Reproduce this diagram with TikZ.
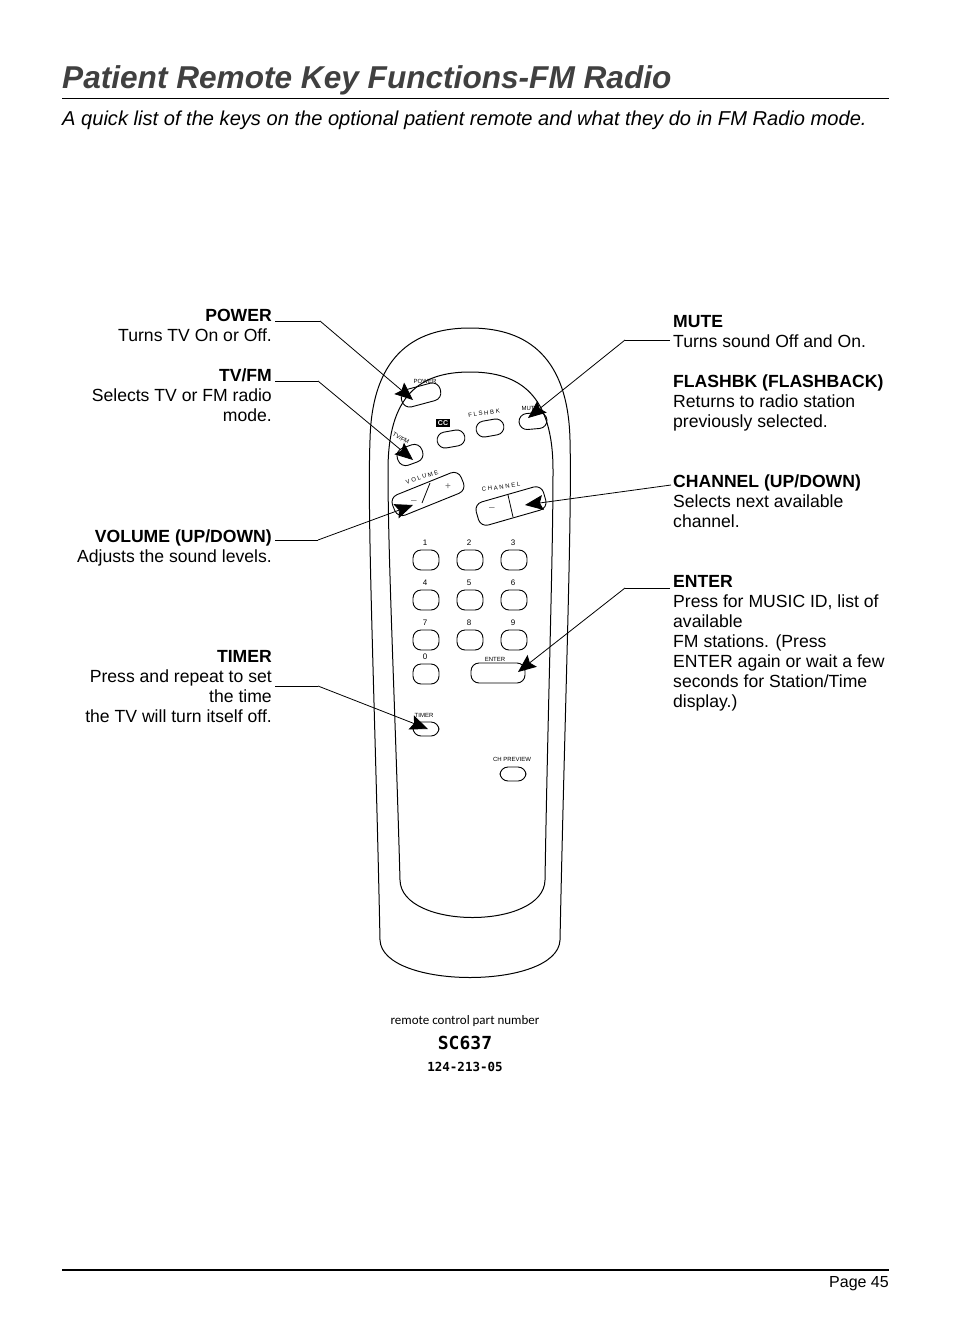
\documentclass[tikz,border=0pt]{standalone}
\usepackage{fontspec}
\setmainfont{Liberation Sans}
\newfontfamily\monob{DejaVu Sans Mono}
\newfontfamily\smallsans{Carlito}
\usetikzlibrary{arrows.meta,calc}
\begin{document}
\begin{tikzpicture}[x=1pt,y=-1pt,
  btn/.style={draw,line width=0.9pt,rounded corners=8pt,minimum width=38pt,minimum height=20pt,inner sep=0pt},
  lbl/.style={font=\fontsize{6.5}{8}\selectfont,inner sep=0pt},
  call/.style={line width=0.8pt,-{Stealth[length=18pt,width=15pt,inset=3pt]}},
  txt/.style={font=\fontsize{17.6}{20}\selectfont,inner sep=0pt},
  shell/.style={line width=1pt}]
\useasboundingbox (0,0) rectangle (954,1335);
% header
\node[anchor=base west,inner sep=0pt,font=\fontsize{31.6}{34}\selectfont\bfseries\itshape,text=black!75] (title) at (62,89) {Patient Remote Key Functions-FM Radio};
\draw[line width=0.8pt] (62,98) coordinate (t1) -- (889,98) coordinate (t2);
\node[anchor=base west,inner sep=0pt,font=\fontsize{20.1}{22}\selectfont\itshape] (sub) at (62,125) {A quick list of the keys on the optional patient remote and what they do in FM Radio mode.};
% remote shell
\draw[shell] (380,940) .. controls (375,700) and (367,520) .. (370,440) .. controls (372,350) and (420,328) .. (470,328) .. controls (520,328) and (568,350) .. (570,440) .. controls (572,520) and (565,700) .. (560,940) .. controls (558,990) and (382,990) .. (380,940) -- cycle;
\draw[shell] (400,880) .. controls (395,700) and (388,560) .. (388,470) .. controls (388,395) and (420,372) .. (470,372) .. controls (520,372) and (553,395) .. (553,470) .. controls (553,560) and (548,700) .. (545,880) .. controls (544,930) and (401,930) .. (400,880) -- cycle;
% top buttons
\node[btn,minimum width=40pt,minimum height=18pt,rotate=15] (power) at (421,395) {};
\node[lbl,font=\fontsize{6}{7}\selectfont] (powerl) at (425,381) {POWER};
\node[fill=black,text=white,inner sep=1.5pt,font=\fontsize{7}{8}\selectfont\bfseries] (cc) at (443,423) {CC};
\node[btn,minimum width=28pt,minimum height=16pt,rotate=10] (ccb) at (451,439) {};
\node[btn,minimum width=28pt,minimum height=16pt,rotate=10] (fl) at (490,428) {};
\node[lbl,font=\fontsize{6}{7}\selectfont,rotate=8] (fll) at (484,413) {F L S H B K};
\node[btn,minimum width=28pt,minimum height=16pt,rotate=5] (mute) at (533,421) {};
\node[lbl,font=\fontsize{6}{7}\selectfont] (mutel) at (530,408) {MUTE};
\node[btn,minimum width=26pt,minimum height=18pt,rotate=20] (tvfm) at (410,455) {};
\node[lbl,font=\fontsize{6}{7}\selectfont,rotate=-30] (tvfml) at (401,438) {TV/FM};
\node[btn,minimum width=74pt,minimum height=22pt,rotate=22] (vol) at (428,494) {};
\draw[line width=0.8pt] ($(vol.center)+(2,-11)$) -- ($(vol.center)+(-6,9)$);
\node[lbl,font=\fontsize{10}{10}\selectfont,text=black!60] (vm) at (414,502) {--};
\node[lbl,font=\fontsize{10}{10}\selectfont,text=black!60] (vp) at (448,487) {+};
\node[lbl,font=\fontsize{6}{7}\selectfont,rotate=18] (voll) at (422,477) {V O L U M E};
\node[btn,minimum width=70pt,minimum height=24pt,rotate=16] (ch) at (511,506) {};
\draw[line width=0.8pt] ($(ch.center)+(-3,-11)$) -- ($(ch.center)+(2,11)$);
\node[lbl,font=\fontsize{10}{10}\selectfont,text=black!60] (chm) at (492,509) {--};
\node[lbl,font=\fontsize{6}{7}\selectfont,rotate=8] (chl) at (501,487) {C H A N N E L};
% number pad
\foreach \n/\x/\y in {1/426/560,2/470/560,3/514/560,4/426/600,5/470/600,6/514/600,7/426/640,8/470/640,9/514/640,0/426/674}{
  \node[btn,minimum width=26pt,minimum height=20pt] (k\n) at (\x,\y) {};
  \node[lbl,font=\fontsize{8}{9}\selectfont] (kl\n) at (\x-1,\y-17) {\n};
}
\node[btn,minimum width=54pt,minimum height=20pt] (enter) at (498,673) {};
\node[lbl,font=\fontsize{6}{7}\selectfont] (enterl) at (495,659) {ENTER};
\node[btn,minimum width=26pt,minimum height=14pt] (timer) at (426,729) {};
\node[lbl,font=\fontsize{6}{7}\selectfont] (timerl) at (424,715) {TIMER};
\node[btn,minimum width=26pt,minimum height=14pt] (chp) at (513,774) {};
\node[lbl,font=\fontsize{6}{7}\selectfont] (chpl) at (512,759) {CH PREVIEW};
% callout texts left
\node[txt,anchor=north east,align=right] (tpow) at (272,309) {\textbf{POWER}\\Turns TV On or Off.};
\node[txt,anchor=north east,align=right] (ttv) at (272,369) {\textbf{TV/FM}\\Selects TV or FM radio\\mode.};
\node[txt,anchor=north east,align=right] (tvol) at (272,530) {\textbf{VOLUME (UP/DOWN)}\\Adjusts the sound levels.};
\node[txt,anchor=north east,align=right] (ttim) at (272,650) {\textbf{TIMER}\\Press and repeat to set\\the time\\the TV will turn itself off.};
% right
\node[txt,anchor=north west,align=left] (tmute) at (673,315) {\textbf{MUTE}\\Turns sound Off and On.\\[20pt]\textbf{FLASHBK (FLASHBACK)}\\Returns to radio station\\previously selected.};
\node[txt,anchor=north west,align=left] (tch) at (673,475) {\textbf{CHANNEL (UP/DOWN)}\\Selects next available\\channel.};
\node[txt,anchor=north west,align=left] (tent) at (673,575) {\textbf{ENTER}\\Press for MUSIC ID, list of\\available\\ FM stations. (Press\\ENTER again or wait a few\\seconds for Station/Time\\display.)};
% connectors
\coordinate (c1) at (320,321); \coordinate (c2) at (318,381); \coordinate (c3) at (318,540);
\coordinate (c4) at (318,686); \coordinate (c5) at (625,340); \coordinate (c6) at (625,588);
\draw[line width=0.8pt] (275,321) -- (c1); \draw[call] (c1) -- (413,400);
\draw[line width=0.8pt] (275,381) -- (c2); \draw[call] (c2) -- (413,460);
\draw[line width=0.8pt] (275,540) -- (c3); \draw[call] (c3) -- (413,505);
\draw[line width=0.8pt] (275,686) -- (c4); \draw[call] (c4) -- (428,729);
\draw[line width=0.8pt] (670,340) -- (c5); \draw[call] (c5) -- (528,418);
\draw[call] (671,485) -- (525,505);
\draw[line width=0.8pt] (670,588) -- (c6); \draw[call] (c6) -- (518,672);
% part number
\node[inner sep=0pt,font=\fontsize{13}{14}\selectfont\smallsans] (pn) at (465,1021) {remote control part number};
\node[inner sep=0pt,font=\fontsize{18}{20}\selectfont\monob\bfseries] (sc) at (465,1043) {SC637};
\node[inner sep=0pt,font=\fontsize{12.5}{14}\selectfont\monob\bfseries] (num) at (465,1067) {124-213-05};
% footer
\draw[line width=1.6pt] (62,1270) -- (889,1270);
\node[anchor=base east,inner sep=0pt,font=\fontsize{16}{18}\selectfont] (page) at (889,1287) {Page 45};
\end{tikzpicture}
\end{document}
